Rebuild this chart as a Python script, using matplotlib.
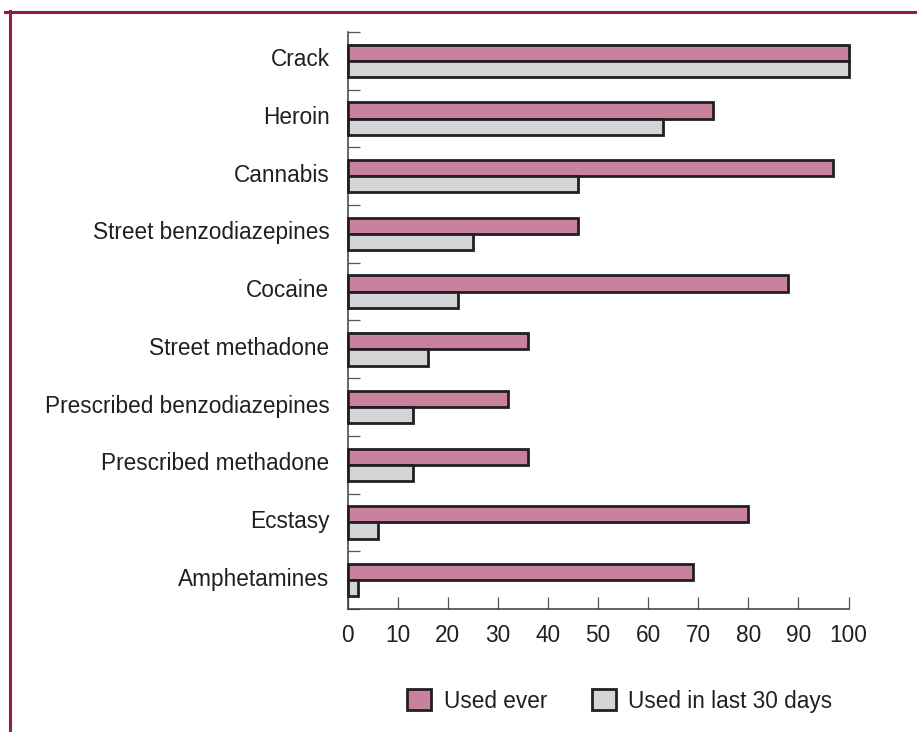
import matplotlib
matplotlib.use("Agg")
import matplotlib.pyplot as plt
from matplotlib.patches import Patch
from matplotlib.lines import Line2D
from matplotlib.transforms import ScaledTranslation
import numpy as np

categories = ["Crack", "Heroin", "Cannabis", "Street benzodiazepines", "Cocaine",
              "Street methadone", "Prescribed benzodiazepines", "Prescribed methadone",
              "Ecstasy", "Amphetamines"]
used_ever = [100, 73, 97, 46, 88, 36, 32, 36, 80, 69]
used_30_days = [100, 63, 46, 25, 22, 16, 13, 13, 6, 2]
x_ticks = [0, 10, 20, 30, 40, 50, 60, 70, 80, 90, 100]
series_labels = ["Used ever", "Used in last 30 days"]

PINK = "#C8819F"
GRAY = "#D3D4D6"
EDGE = "#231F20"
TEXT = "#231F20"
FRAME = "#8C1D4E"

plt.rcParams["font.family"] = ["Liberation Sans", "DejaVu Sans"]

W, H = 917, 732
fig = plt.figure(figsize=(W / 100, H / 100), dpi=100)
fig.patch.set_facecolor("white")

left, right, top, bottom = 347.5 / W, 848.5 / W, 1 - 32 / H, 1 - 609 / H
ax = fig.add_axes([left, bottom, right - left, top - bottom])

y = np.arange(len(categories))
h = 0.28
ax.barh(y - h / 2, used_ever, height=h, color=PINK, edgecolor=EDGE,
        linewidth=2.0, clip_on=False, zorder=3)
ax.barh(y + h / 2, used_30_days, height=h, color=GRAY, edgecolor=EDGE,
        linewidth=2.0, clip_on=False, zorder=3)

ax.set_xlim(0, 100)
ax.set_ylim(len(categories) - 0.5, -0.5)

for s in ["top", "right"]:
    ax.spines[s].set_visible(False)
for s in ["left", "bottom"]:
    ax.spines[s].set_color("#3a3a3a")
    ax.spines[s].set_linewidth(1.1)

ax.set_xticks(x_ticks)
ax.set_xticklabels([str(t) for t in x_ticks])
ax.tick_params(axis="x", direction="in", length=8.3, width=0.9, color="#555555",
               labelsize=16.3, labelcolor=TEXT, pad=11)

ax.set_yticks(np.arange(-0.5, len(categories) + 0.5, 1.0))
ax.set_yticklabels([])
ax.set_yticks(y, minor=True)
ax.set_yticklabels(categories, minor=True)
ax.tick_params(axis="y", which="major", direction="in", length=8.3, width=0.9,
               color="#555555")
ax.tick_params(axis="y", which="minor", length=0, labelsize=16.3, labelcolor=TEXT, pad=13)
shift = ScaledTranslation(0, 3.5 / 100, fig.dpi_scale_trans)
for lab in ax.get_yticklabels(minor=True):
    lab.set_transform(lab.get_transform() + shift)

handles = [Patch(facecolor=PINK, edgecolor=EDGE, linewidth=2.0),
           Patch(facecolor=GRAY, edgecolor=EDGE, linewidth=2.0)]
fig.legend(handles, series_labels, loc="center", bbox_to_anchor=(620 / W, 1 - 701 / H),
           ncol=2, frameon=False, fontsize=16.3, handlelength=1.05, handleheight=1.05,
           handletextpad=0.55, columnspacing=2.0, labelcolor=TEXT)

# decorative frame: top and left lines
fig.add_artist(Line2D([5 / W, 1.0], [1 - 11.8 / H, 1 - 11.8 / H], color=FRAME,
                      linewidth=2.2, transform=fig.transFigure))
fig.add_artist(Line2D([9.5 / W, 9.5 / W], [1 - 10.5 / H, 0.0], color=FRAME,
                      linewidth=2.2, transform=fig.transFigure))

fig.savefig("out.png", dpi=100, facecolor="white")
